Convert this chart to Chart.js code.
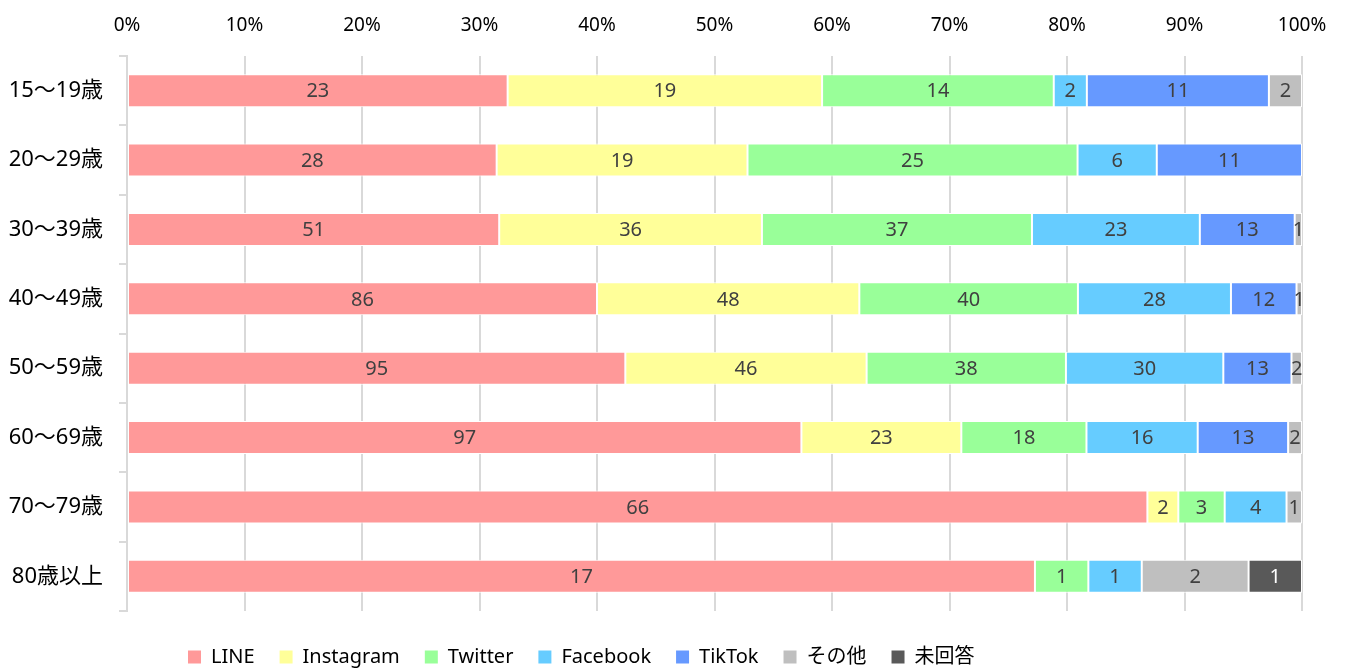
<!DOCTYPE html>
<html>
<head>
<meta charset="utf-8">
<script src="https://cdn.jsdelivr.net/npm/chart.js@4"></script>
<style>
  body { margin: 0; background: #fff; }
  .wrap { width: 1346px; height: 669px; position: relative; }
</style>
</head>
<body>
<div class="wrap"><canvas id="snsChart"></canvas></div>
<script>
// data
const categories = ["15～19歳", "20～29歳", "30～39歳", "40～49歳", "50～59歳", "60～69歳", "70～79歳", "80歳以上"];
const seriesNames = ["LINE", "Instagram", "Twitter", "Facebook", "TikTok", "その他", "未回答"];
const lineCounts = [23, 28, 51, 86, 95, 97, 66, 17];
const instagramCounts = [19, 19, 36, 48, 46, 23, 2, 0];
const twitterCounts = [14, 25, 37, 40, 38, 18, 3, 1];
const facebookCounts = [2, 6, 23, 28, 30, 16, 4, 1];
const tiktokCounts = [11, 11, 13, 12, 13, 13, 0, 0];
const otherCounts = [2, 0, 1, 1, 2, 2, 1, 2];
const noAnswerCounts = [0, 0, 0, 0, 0, 0, 0, 1];
const percentTicks = [0, 10, 20, 30, 40, 50, 60, 70, 80, 90, 100];

const allCounts = [lineCounts, instagramCounts, twitterCounts, facebookCounts, tiktokCounts, otherCounts, noAnswerCounts];
const colors = ["#ff9999", "#ffff99", "#99ff99", "#66ccff", "#6699ff", "#bfbfbf", "#595959"];
const labelColors = ["#404040", "#404040", "#404040", "#404040", "#404040", "#404040", "#ffffff"];

// row totals -> 100% stacked
const totals = categories.map((c, i) => allCounts.reduce((s, arr) => s + arr[i], 0));

const datasets = seriesNames.map((name, k) => ({
  label: name,
  data: allCounts[k].map((v, i) => (v / totals[i]) * 100),
  counts: allCounts[k],
  backgroundColor: colors[k],
  borderColor: "#ffffff",
  borderWidth: 1,
  borderSkipped: false,
  categoryPercentage: 1,
  barPercentage: 0.477,
}));

Chart.defaults.font.family = "'Noto Sans', 'Noto Sans CJK JP', sans-serif";
Chart.defaults.color = "#000";

// draws the counts in the middle of each segment
const countLabels = {
  id: "countLabels",
  afterDatasetsDraw(chart) {
    const { ctx } = chart;
    ctx.save();
    ctx.font = "20px 'Noto Sans', sans-serif";
    ctx.textAlign = "center";
    ctx.textBaseline = "middle";
    chart.data.datasets.forEach((ds, k) => {
      const meta = chart.getDatasetMeta(k);
      meta.data.forEach((bar, i) => {
        const n = ds.counts[i];
        if (!n) return;
        ctx.fillStyle = labelColors[k];
        ctx.fillText(String(n), (bar.x + bar.base) / 2, bar.y + 1);
      });
    });
    ctx.restore();
  },
};

// move the legend where the original sits
const legendShift = {
  id: "legendShift",
  afterLayout(chart) {
    const lg = chart.legend;
    lg.left += 163;
    lg.right += 163;
    lg.top += 11;
    lg.bottom += 11;
  },
};

const ctx = document.getElementById("snsChart").getContext("2d");
new Chart(ctx, {
  type: "bar",
  data: {
    labels: categories,
    datasets: datasets,
  },
  options: {
    indexAxis: "y",
    responsive: true,
    maintainAspectRatio: false,
    animation: false,
    layout: {
      padding: { top: 0, right: 44, bottom: 3, left: 0 },
    },
    scales: {
      x: {
        position: "top",
        stacked: true,
        min: 0,
        max: 100,
        afterFit(scale) {
          scale.height = 56;
        },
        afterBuildTicks(scale) {
          scale.ticks = percentTicks.map((v) => ({ value: v }));
        },
        grid: {
          color: "#d9d9d9",
          lineWidth: 2,
          drawTicks: false,
        },
        border: { display: false },
        ticks: {
          padding: 19,
          font: { size: 19 },
          color: "#000",
          callback: (v) => v + "%",
        },
      },
      y: {
        stacked: true,
        afterFit(scale) {
          scale.width = 127;
        },
        grid: {
          offset: true,
          drawOnChartArea: false,
          color: "#d9d9d9",
          lineWidth: 2,
          tickLength: 8,
        },
        border: { color: "#d9d9d9", width: 2 },
        ticks: {
          padding: 16,
          font: { size: 22 },
          color: "#000",
        },
      },
    },
    plugins: {
      legend: {
        position: "bottom",
        align: "start",
        labels: {
          boxWidth: 13,
          boxHeight: 13,
          padding: 25,
          font: { size: 20 },
          color: "#000",
          generateLabels(chart) {
            return Chart.defaults.plugins.legend.labels.generateLabels(chart).map((item) => {
              item.lineWidth = 0;
              return item;
            });
          },
        },
      },
      tooltip: {
        callbacks: {
          label: function (context) {
            return context.dataset.label + ": " + context.dataset.counts[context.dataIndex];
          },
        },
      },
    },
  },
  plugins: [countLabels, legendShift],
});
</script>
</body>
</html>
